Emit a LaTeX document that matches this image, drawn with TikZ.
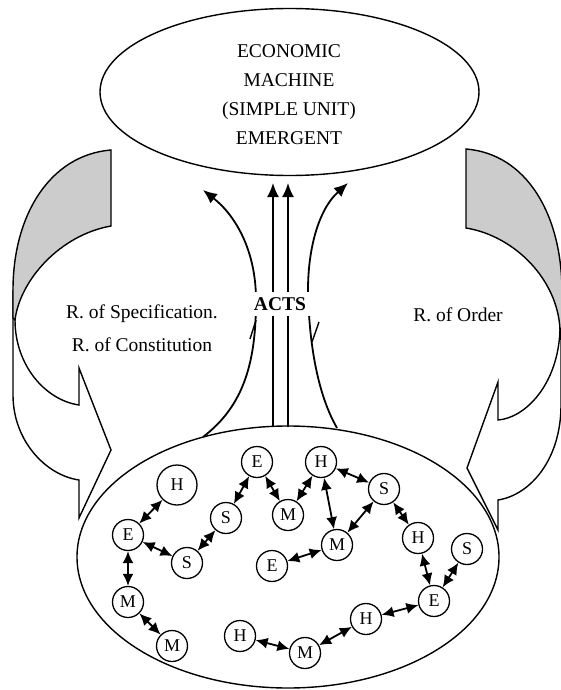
\documentclass[tikz,border=0pt]{standalone}
\usepackage{fontspec}
\setmainfont{Liberation Serif}
\usetikzlibrary{arrows.meta,shapes.geometric}
\begin{document}
\begin{tikzpicture}[x=1pt,y=-1pt,
  txt/.style={font=\fontsize{19.5}{29}\selectfont, inner sep=0pt},
  circ/.style={draw, circle, line width=1.3pt, minimum size=31pt, inner sep=0pt, fill=white, font=\fontsize{18}{18}\selectfont},
  bigcirc/.style={circ, minimum size=40pt},
  link/.style={line width=1.8pt, {Latex[length=12pt,width=11pt]}-{Latex[length=12pt,width=11pt]}},
  act/.style={line width=1.8pt, -{Latex[length=14pt,width=12pt]}},
  outl/.style={line width=1.4pt, line join=miter},
  backface/.style={outl, fill=black!20},
  frontface/.style={outl, fill=white}
]
\useasboundingbox (0,0) rectangle (561,690);
\clip (0,0) rectangle (561,690);

% ---- left curved block arrow ----
\draw[frontface] (13,290) -- (13,395) .. controls (13,440) and (45,475) .. (79,480)
  -- (79,518) -- (111,450) -- (79,368) -- (79,405)
  .. controls (45,400) and (15,365) .. (15,320) -- cycle;
\draw[backface] (111,150) -- (111,226) .. controls (60,235) and (20,280) .. (15,320)
  -- (13,318) -- (13,290) .. controls (13,215) and (50,155) .. (111,150) -- cycle;

% ---- right curved block arrow ----
\draw[frontface] (561,292) -- (561,405) .. controls (561,460) and (530,495) .. (498,500)
  -- (498,530) -- (467,468) -- (498,382) -- (498,420)
  .. controls (525,418) and (558,385) .. (560,330) -- cycle;
\draw[backface] (466,149) -- (466,228) .. controls (515,236) and (558,280) .. (560,330)
  -- (562,328) -- (562,292) .. controls (562,215) and (527,154) .. (466,149) -- cycle;

% ---- ellipses ----
\node[draw, ellipse, line width=1.4pt, minimum width=379pt, minimum height=167pt, inner sep=0pt] (top) at (289.5,92) {};
\draw[outl] (288,557) ellipse [x radius=211, y radius=131];
\node[inner sep=0pt] (bot) at (288,557) {};

\node[txt, align=center] (title) at (289,95) {ECONOMIC\\MACHINE\\(SIMPLE UNIT)\\EMERGENT};

% ---- ACTS arrows ----
\coordinate (l0) at (203,437); \coordinate (l1) at (203,190);
\coordinate (r0) at (337,428); \coordinate (r1) at (348,183);
\coordinate (v1a) at (273,427); \coordinate (v1b) at (273,183);
\coordinate (v2a) at (288,427); \coordinate (v2b) at (288,183);
\draw[act] (l0) .. controls (245,405) and (256,360) .. (256,300)
  .. controls (256,250) and (235,215) .. (l1);
\draw[act] (r0) .. controls (318,395) and (309,345) .. (308,290)
  .. controls (308,250) and (318,210) .. (r1);
\draw[act] (v1a) -- (v1b);
\draw[act] (v2a) -- (v2b);
\coordinate (s1a) at (256,320); \coordinate (s1b) at (250,339);
\coordinate (s2a) at (319,322); \coordinate (s2b) at (312,342);
\draw[line width=1.4pt] (s1a) -- (s1b);
\draw[line width=1.4pt] (s2a) -- (s2b);
\node[fill=white, font=\fontsize{19.5}{19.5}\selectfont\bfseries, inner xsep=4pt, inner ysep=5pt] (acts) at (280,304) {ACTS};

% ---- side labels ----
\node[txt] (spec) at (142,314) {R. of Specification.};
\node[txt] (cons) at (142,345) {R. of Constitution};
\node[txt] (order) at (458,315) {R. of Order};

% ---- inner network ----
\node[bigcirc] (H1) at (177,485) {H};
\node[circ] (E1) at (128,535) {E};
\node[circ] (S1) at (187,563) {S};
\node[circ] (M1) at (128,602) {M};
\node[circ] (M2) at (172,646) {M};
\node[circ] (S2) at (226,518) {S};
\node[circ] (E2) at (257,462) {E};
\node[circ] (M3) at (288,515) {M};
\node[circ] (H2) at (321,462) {H};
\node[circ] (S3) at (384,489) {S};
\node[circ] (M4) at (337,545) {M};
\node[circ] (E3) at (272,566) {E};
\node[circ] (H3) at (418,538) {H};
\node[circ] (S4) at (467,549) {S};
\node[circ] (E4) at (434,601) {E};
\node[circ] (H4) at (366,619) {H};
\node[circ] (M5) at (305,653) {M};
\node[circ] (H5) at (240,636) {H};

\draw[link] (H1) -- (E1);
\draw[link] (E1) -- (S1);
\draw[link] (E1) -- (M1);
\draw[link] (M1) -- (M2);
\draw[link] (S1) -- (S2);
\draw[link] (S2) -- (E2);
\draw[link] (E2) -- (M3);
\draw[link] (M3) -- (H2);
\draw[link] (H2) -- (S3);
\draw[link] (H2) -- (M4);
\draw[link] (M4) -- (S3);
\draw[link] (M4) -- (E3);
\draw[link] (S3) -- (H3);
\draw[link] (H3) -- (E4);
\draw[link] (E4) -- (S4);
\draw[link] (E4) -- (H4);
\draw[link] (H4) -- (M5);
\draw[link] (M5) -- (H5);
\end{tikzpicture}
\end{document}
